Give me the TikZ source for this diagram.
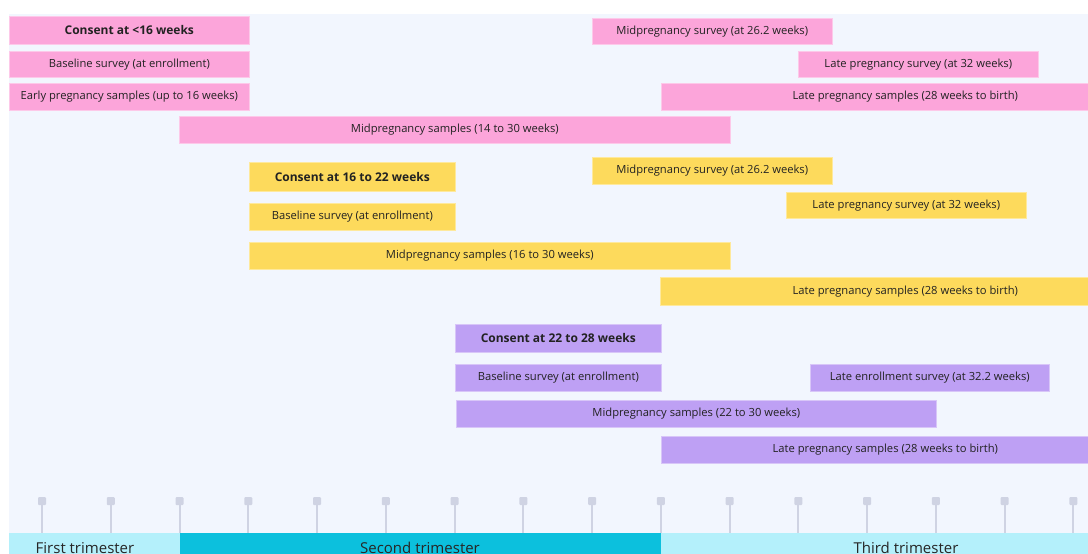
\documentclass[tikz,border=0pt]{standalone}
\usepackage{fontspec}
\setmainfont{Open Sans}
\usepackage{xcolor}
\usepackage{tikz}
\usetikzlibrary{positioning}
\definecolor{pagebg}{HTML}{F2F6FE}
\definecolor{pinkfill}{HTML}{FCA5DA}
\definecolor{yellowfill}{HTML}{FDDA5C}
\definecolor{purplefill}{HTML}{BEA0F4}
\definecolor{tickgray}{HTML}{CFD3E3}
\definecolor{lightcyan}{HTML}{B4F0FB}
\definecolor{darkcyan}{HTML}{0CC0DD}
\definecolor{bartext}{HTML}{222222}
\tikzstyle{bar} = [rectangle, anchor=north west, inner sep=0pt, text=bartext, font=\fontsize{11.2}{13}\selectfont, line width=0.6pt]
\tikzstyle{pinkbar} = [bar, fill=pinkfill, draw=pinkfill!60!white]
\tikzstyle{yellowbar} = [bar, fill=yellowfill, draw=yellowfill!60!white]
\tikzstyle{purplebar} = [bar, fill=purplefill, draw=purplefill!60!white]
\tikzstyle{consent} = [font=\fontsize{12}{14}\selectfont\bfseries]
\tikzstyle{trimester} = [rectangle, anchor=north west, inner sep=0pt, minimum height=30pt]
\tikzstyle{trilabel} = [text=black!85, font=\fontsize{15}{17}\selectfont]

\begin{document}
\begin{tikzpicture}[x=1pt, y=-1pt]
            \clip (0,0) rectangle (1088,554);
            \fill[white] (0,0) rectangle (1088,554);
            \fill[pagebg] (9,14) rectangle (1088,554);

            % Pink group (consent before 16 weeks)
            \node (pconsent) [pinkbar, consent, minimum width=240pt, minimum height=28pt] at (9,16) {Consent at <16 weeks};
            \node (pbase) [pinkbar, minimum width=240pt, minimum height=26pt] at (9,51) {Baseline survey (at enrollment)};
            \node (pearly) [pinkbar, minimum width=240pt, minimum height=27pt] at (9,83) {Early pregnancy samples (up to 16 weeks)};
            \node (pmids) [pinkbar, minimum width=551pt, minimum height=27pt] at (179,116) {Midpregnancy samples (14 to 30 weeks)};
            \node (pmidsv) [pinkbar, minimum width=240pt, minimum height=26pt] at (592,18) {Midpregnancy survey (at 26.2 weeks)};
            \node (platesv) [pinkbar, minimum width=240pt, minimum height=26pt] at (798,51) {Late pregnancy survey (at 32 weeks)};
            \node (plates) [pinkbar, minimum width=440pt, minimum height=27pt] at (661,83) {\hspace*{48pt}Late pregnancy samples (28 weeks to birth)};

            % Yellow group (consent 16 to 22 weeks)
            \node (yconsent) [yellowbar, consent, minimum width=206pt, minimum height=29pt] at (249,162) {Consent at 16 to 22 weeks};
            \node (ybase) [yellowbar, minimum width=206pt, minimum height=27pt] at (249,203) {Baseline survey (at enrollment)};
            \node (ymids) [yellowbar, minimum width=481pt, minimum height=27pt] at (249,242) {Midpregnancy samples (16 to 30 weeks)};
            \node (ymidsv) [yellowbar, minimum width=240pt, minimum height=27pt] at (592,157) {Midpregnancy survey (at 26.2 weeks)};
            \node (ylatesv) [yellowbar, minimum width=240pt, minimum height=26pt] at (786,192) {Late pregnancy survey (at 32 weeks)};
            \node (ylates) [yellowbar, minimum width=440pt, minimum height=28pt] at (660,277) {\hspace*{50pt}Late pregnancy samples (28 weeks to birth)};

            % Purple group (consent 22 to 28 weeks)
            \node (uconsent) [purplebar, consent, minimum width=206pt, minimum height=28pt] at (455,324) {Consent at 22 to 28 weeks};
            \node (ubase) [purplebar, minimum width=206pt, minimum height=27pt] at (455,364) {Baseline survey (at enrollment)};
            \node (ulatesv) [purplebar, minimum width=239pt, minimum height=27pt] at (810,364) {Late enrollment survey (at 32.2 weeks)};
            \node (umids) [purplebar, minimum width=480pt, minimum height=27pt] at (456,400) {Midpregnancy samples (22 to 30 weeks)};
            \node (ulates) [purplebar, minimum width=440pt, minimum height=27pt] at (661,436) {\hspace*{8pt}Late pregnancy samples (28 weeks to birth)};

            % Week ticks
            \foreach \i in {0,...,15} {
                \draw[tickgray, line width=2pt] ({42+68.75*\i},504) -- ({42+68.75*\i},534);
                \fill[tickgray, rounded corners=1pt] ({42+68.75*\i-4},497) rectangle ({42+68.75*\i+4},505);
            }

            % Trimesters
            \node (first) [trimester, fill=lightcyan, minimum width=171pt] at (9,533) {};
            \node (second) [trimester, fill=darkcyan, minimum width=481pt] at (180,533) {};
            \node (third) [trimester, fill=lightcyan, minimum width=440pt] at (661,533) {};
            \node (firstlbl) [trilabel] at (85,548) {First trimester};
            \node (secondlbl) [trilabel] at (420,548) {Second trimester};
            \node (thirdlbl) [trilabel] at (906,548) {Third trimester};
        \end{tikzpicture}
\end{document}
